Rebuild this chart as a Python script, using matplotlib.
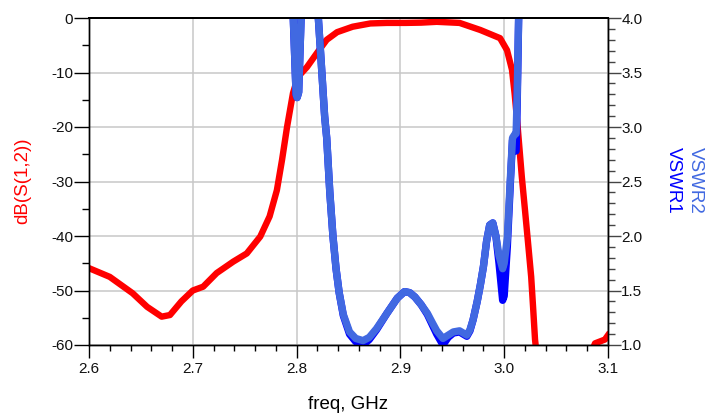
import numpy as np
import matplotlib
matplotlib.use('Agg')
import matplotlib.pyplot as plt
from matplotlib.ticker import MultipleLocator

plt.rcParams['font.family'] = ['Liberation Sans', 'DejaVu Sans']

# dB(S(1,2))
freq_s12 = [2.600, 2.620, 2.642, 2.656, 2.670, 2.678, 2.689, 2.700, 2.710, 2.723,
            2.739, 2.752, 2.765, 2.774, 2.781, 2.786, 2.7908, 2.7965, 2.8013, 2.810,
            2.8197, 2.829, 2.839, 2.854, 2.871, 2.887, 2.905, 2.920, 2.935, 2.957,
            2.977, 2.996, 3.0027, 3.0075, 3.010, 3.013, 3.017, 3.020, 3.023, 3.026,
            3.028, 3.0297, 3.032, 3.050, 3.070, 3.0875, 3.097, 3.100]
db_s12 = [-45.9, -47.5, -50.5, -53.0, -54.8, -54.5, -52.0, -50.0, -49.3, -46.8,
          -44.7, -43.2, -40.1, -36.4, -31.6, -26.0, -20.0, -13.8, -10.8, -9.0,
          -6.4, -4.0, -2.6, -1.6, -1.0, -0.9, -0.9, -0.85, -0.7, -0.9,
          -2.2, -3.7, -5.9, -9.5, -13.8, -20.0, -29.2, -35.2, -41.3, -47.5,
          -53.6, -59.0, -63.0, -68.0, -68.0, -59.7, -59.0, -58.2]

# VSWR traces (values above 4 run off the top of the plot)
freq_vswr = [2.600, 2.795, 2.7966, 2.7995, 2.8005, 2.8020, 2.8045, 2.812, 2.8206, 2.824,
             2.827, 2.829, 2.832, 2.835, 2.838, 2.841, 2.845, 2.851, 2.857, 2.864,
             2.870, 2.877, 2.887, 2.897, 2.904, 2.909, 2.914, 2.920, 2.926, 2.931,
             2.935, 2.941, 2.946, 2.951, 2.957, 2.964, 2.967, 2.970, 2.974, 2.977,
             2.980, 2.983, 2.986, 2.989, 2.992, 2.995, 2.9985, 3.000, 3.003, 3.006,
             3.008, 3.010, 3.0115, 3.0125, 3.014, 3.016, 3.100]
vswr2 = [20.0, 4.6, 4.05, 3.30, 3.27, 3.32, 4.05, 6.0, 4.05, 3.55,
         3.10, 2.90, 2.40, 2.00, 1.70, 1.48, 1.28, 1.12, 1.06, 1.04,
         1.07, 1.15, 1.29, 1.43, 1.49, 1.48, 1.44, 1.37, 1.29, 1.20,
         1.13, 1.06, 1.09, 1.12, 1.13, 1.09, 1.14, 1.23, 1.40, 1.55,
         1.72, 1.95, 2.10, 2.12, 2.00, 1.82, 1.70, 1.75, 1.98, 2.54,
         2.90, 2.93, 2.94, 3.30, 4.05, 5.0, 20.0]
vswr1 = [20.0, 4.6, 4.05, 3.30, 3.27, 3.32, 4.05, 6.0, 4.05, 3.55,
         3.10, 2.90, 2.40, 2.00, 1.70, 1.48, 1.27, 1.10, 1.03, 1.00,
         1.05, 1.14, 1.29, 1.43, 1.49, 1.48, 1.44, 1.37, 1.28, 1.18,
         1.10, 1.00, 1.07, 1.11, 1.12, 1.08, 1.13, 1.23, 1.40, 1.55,
         1.72, 1.95, 2.10, 2.12, 2.00, 1.75, 1.41, 1.45, 1.90, 2.50,
         2.88, 2.80, 2.78, 3.20, 4.05, 5.0, 20.0]

red = '#ff0000'
light_blue = '#4169e1'
dark_blue = '#0000ff'

fig = plt.figure(figsize=(7.13, 4.18), dpi=100)
ax = fig.add_axes([89/713, 1-345/418, (608-89)/713, (345-18)/418])
ax2 = ax.twinx()

ax.plot(freq_s12, db_s12, color=red, lw=4.6)
ax2.plot(freq_vswr, vswr1, color=dark_blue, lw=5.3)
ax2.plot(freq_vswr, vswr2, color=light_blue, lw=5.3)

ax.set_xlim(2.6, 3.1)
ax.set_ylim(-60, 0)
ax2.set_ylim(1.0, 4.0)

ax.xaxis.set_major_locator(MultipleLocator(0.1))
ax.xaxis.set_minor_locator(MultipleLocator(0.02))
ax.yaxis.set_major_locator(MultipleLocator(10))
ax.yaxis.set_minor_locator(MultipleLocator(5))
ax2.yaxis.set_major_locator(MultipleLocator(0.5))
ax2.yaxis.set_minor_locator(MultipleLocator(0.1))

ax.grid(True, which='major', color='#c8c8c8', lw=1.1)
ax.set_axisbelow(True)

tick_col = '#111111'
ax.tick_params(axis='y', which='major', direction='out', length=10.5, width=1.0,
               pad=1, labelsize=11, labelcolor=tick_col)
ax.tick_params(axis='y', which='minor', direction='out', length=5, width=1.0)
ax.tick_params(axis='x', which='major', direction='out', length=9.5, width=1.0,
               pad=3, labelsize=11, labelcolor=tick_col)
ax.tick_params(axis='x', which='minor', direction='out', length=4.3, width=1.0)
ax2.tick_params(axis='y', which='major', direction='out', length=9.5, width=1.0,
                pad=0, labelsize=11, labelcolor=tick_col, color='#444444')
ax2.tick_params(axis='y', which='minor', direction='out', length=5, width=1.0,
                color='#444444')

ax.xaxis.set_major_formatter(plt.FuncFormatter(lambda v, p: f'{v:.1f}'))
ax.yaxis.set_major_formatter(plt.FuncFormatter(lambda v, p: f'{v:.0f}'))
ax2.yaxis.set_major_formatter(plt.FuncFormatter(lambda v, p: f'{v:.1f}'))

for a in (ax, ax2):
    for s in a.spines.values():
        s.set_color('black')
        s.set_linewidth(1.0)
    a.spines['top'].set_linewidth(1.4)

fig.text(23/713, 1-181/418, 'dB(S(1,2))', color=red, fontsize=13.5,
         rotation=90, ha='center', va='center')
fig.text(348/713, 9/418, 'freq, GHz', color='black', fontsize=13.5,
         ha='center', va='baseline')
fig.text(695/713, 1-180/418, 'VSWR2', color=light_blue, fontsize=13.5,
         rotation=270, ha='center', va='center')
fig.text(673/713, 1-180/418, 'VSWR1', color=dark_blue, fontsize=13.5,
         rotation=270, ha='center', va='center')

fig.savefig('out.png', dpi=100)
